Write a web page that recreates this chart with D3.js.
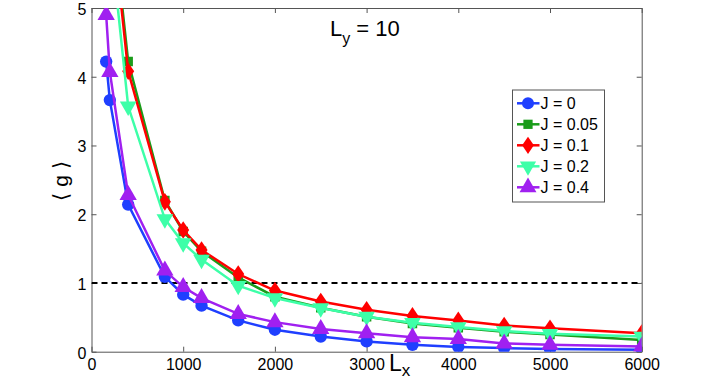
<!DOCTYPE html>
<html>
<head>
<meta charset="utf-8">
<script src="https://cdn.jsdelivr.net/npm/d3@7"></script>
<style>
  body { margin: 0; background: #fff; }
  svg { font-family: "Liberation Sans", Arial, sans-serif; }
</style>
</head>
<body>
<div id="chart"></div>
<script>
// Lx values along the x axis
const lx = [160, 200, 400, 800, 1000, 1200, 1600, 2000, 2500, 3000, 3500, 4000, 4500, 5000, 6000];

// <g> for each coupling J
const gJ0   = [4.22, 3.66, 2.14, 1.09, 0.83, 0.67, 0.455, 0.32, 0.22, 0.15, 0.10, 0.07, 0.053, 0.04, 0.03];
const gJ005 = [8.2, 6.7, 4.22, 2.2, 1.75, 1.46, 1.08, 0.80, 0.64, 0.51, 0.41, 0.35, 0.29, 0.25, 0.17];
const gJ01  = [8.1, 6.6, 4.08, 2.18, 1.77, 1.48, 1.13, 0.89, 0.73, 0.61, 0.52, 0.455, 0.38, 0.34, 0.27];
const gJ02  = [7.4, 6.1, 3.57, 1.93, 1.58, 1.34, 0.96, 0.78, 0.635, 0.51, 0.42, 0.36, 0.30, 0.26, 0.22];
const gJ04  = [4.9, 4.07, 2.28, 1.18, 0.94, 0.78, 0.55, 0.43, 0.33, 0.27, 0.21, 0.185, 0.12, 0.10, 0.077];

const seriesNames = ['J = 0', 'J = 0.05', 'J = 0.1', 'J = 0.2', 'J = 0.4'];
const seriesColors = ['#1f3fff', '#1a9c1a', '#ff0000', '#3dffa8', '#a020f0'];
const seriesSymbols = [d3.symbolCircle, d3.symbolSquare, 'diamond', 'triangleDown', d3.symbolTriangle];
const seriesValues = [gJ0, gJ005, gJ01, gJ02, gJ04];

const xTicks = [0, 1000, 2000, 3000, 4000, 5000, 6000];
const yTicks = [0, 1, 2, 3, 4, 5];
const thresholdY = 1;

const W = 708, H = 383;
const margin = { top: 8, right: 66.3, bottom: 31.3, left: 91.5 };
const width = W - margin.left - margin.right;
const height = H - margin.top - margin.bottom;

const svg = d3.select('#chart')
  .append('svg')
  .attr('width', W)
  .attr('height', H);

const g = svg.append('g')
  .attr('transform', `translate(${margin.left},${margin.top})`);

const x = d3.scaleLinear().domain([0, 6000]).range([0, width]);
const y = d3.scaleLinear().domain([0, 5]).range([height, 0]);

// Marker path for each series
const markerPath = (sym, size) => {
  if (sym === 'diamond') {
    const r = Math.sqrt(size) * 0.62;
    return `M0,${-r * 1.25}L${r * 0.85},0L0,${r * 1.25}L${-r * 0.85},0Z`;
  }
  if (sym === 'triangleDown') {
    return d3.symbol(d3.symbolTriangle, size)().replace(/(-?\d*\.?\d+),(-?\d*\.?\d+)/g,
      (m, a, b) => `${a},${-parseFloat(b)}`);
  }
  return d3.symbol(sym, size)();
};
const markerSizes = [120, 90, 130, 120, 130];

// Axes (MATLAB-like box with inward ticks)
const axisColor = '#555';
const fmt = d3.format('d');
const axB = g.append('g').attr('transform', `translate(0,${height})`)
  .call(d3.axisBottom(x).tickValues(xTicks).tickFormat(fmt).tickSizeInner(-5).tickSizeOuter(0).tickPadding(9));
const axT = g.append('g')
  .call(d3.axisTop(x).tickValues(xTicks).tickSizeInner(-5).tickSizeOuter(0).tickFormat(''));
const axL = g.append('g')
  .call(d3.axisLeft(y).tickValues(yTicks).tickFormat(fmt).tickSizeInner(-5).tickSizeOuter(0).tickPadding(5));
const axR = g.append('g').attr('transform', `translate(${width},0)`)
  .call(d3.axisRight(y).tickValues(yTicks).tickSizeInner(-5).tickSizeOuter(0).tickFormat(''));

[axB, axT, axL, axR].forEach(ax => {
  ax.select('.domain').attr('stroke', axisColor).attr('stroke-width', 1);
  ax.selectAll('.tick line').attr('stroke', axisColor);
  ax.selectAll('.tick text')
    .attr('fill', '#000')
    .style('font-size', '16px')
    .style('font-family', '"Liberation Sans", Arial, sans-serif');
});
axL.selectAll('.tick text').attr('dy', '0.4em');
axB.selectAll('.tick text').attr('dy', '0.6em');

// Clip
g.append('clipPath').attr('id', 'plotClip')
  .append('rect').attr('x', 0).attr('y', 0).attr('width', width).attr('height', height);

const plot = g.append('g').attr('clip-path', 'url(#plotClip)');

// Dashed threshold line
plot.append('line')
  .attr('x1', 0).attr('x2', width)
  .attr('y1', y(thresholdY)).attr('y2', y(thresholdY))
  .attr('stroke', '#000')
  .attr('stroke-width', 2)
  .attr('stroke-dasharray', '6,4');

const line = d3.line().x((d, i) => x(lx[i])).y(d => y(d));

seriesValues.forEach((vals, k) => {
  plot.append('path')
    .datum(vals)
    .attr('fill', 'none')
    .attr('stroke', seriesColors[k])
    .attr('stroke-width', 2.5)
    .attr('d', line);

  plot.selectAll(`.m${k}`)
    .data(vals)
    .enter().append('path')
    .attr('class', `m${k}`)
    .attr('transform', (d, i) => `translate(${x(lx[i])},${y(d)})`)
    .attr('d', markerPath(seriesSymbols[k], markerSizes[k]))
    .attr('fill', seriesColors[k]);
});

// Axis labels
svg.append('text')
  .attr('transform', `translate(68,181) rotate(-90)`)
  .attr('text-anchor', 'middle')
  .style('font-size', '21px')
  .text('\u27E8 g \u27E9');

const xl = svg.append('text')
  .attr('x', 389).attr('y', 371)
  .style('font-size', '23px');
xl.append('tspan').text('L');
xl.append('tspan').attr('dy', 5).style('font-size', '17px').text('x');

const tl = svg.append('text')
  .attr('x', 330).attr('y', 36)
  .style('font-size', '22px');
tl.append('tspan').text('L');
tl.append('tspan').attr('dy', 8).style('font-size', '16px').text('y');
tl.append('tspan').attr('dy', -8).text(' = 10');

// Legend
const legend = svg.append('g').attr('transform', 'translate(512.5,90)');
legend.append('rect')
  .attr('width', 92).attr('height', 112)
  .attr('fill', '#fff')
  .attr('stroke', '#555')
  .attr('stroke-width', 1);

seriesNames.forEach((name, k) => {
  const row = legend.append('g').attr('transform', `translate(0,${13.3 + k * 21})`);
  row.append('line')
    .attr('x1', 4.5).attr('x2', 27)
    .attr('stroke', seriesColors[k])
    .attr('stroke-width', 2.5);
  row.append('path')
    .attr('transform', 'translate(15.5,0)')
    .attr('d', markerPath(seriesSymbols[k], markerSizes[k] * 0.95))
    .attr('fill', seriesColors[k]);
  row.append('text')
    .attr('x', 28).attr('dy', '0.36em')
    .style('font-size', '16px')
    .text(name);
});
</script>
</body>
</html>
